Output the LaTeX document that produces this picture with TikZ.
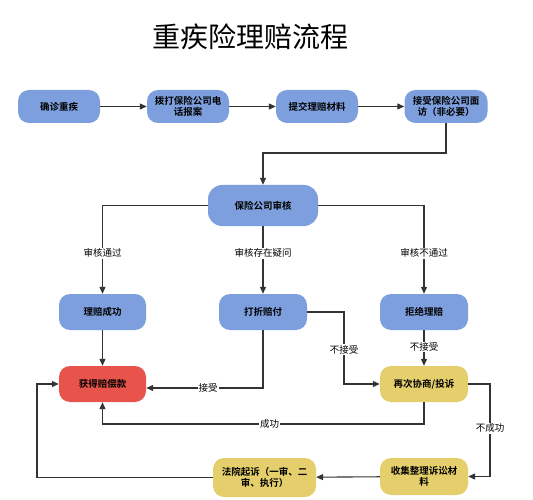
\documentclass[tikz,border=0pt]{standalone}
\usepackage{fontspec}
\setmainfont{Noto Sans CJK SC}[BoldFont={Noto Sans CJK SC Bold}]
\usetikzlibrary{arrows.meta}
\definecolor{nblue}{HTML}{7E9FDE}
\definecolor{nred}{HTML}{E8534C}
\definecolor{nyel}{HTML}{E5CF6C}
\definecolor{lcol}{HTML}{333333}
\tikzset{
  box/.style={rounded corners=11pt, align=center, font=\fontsize{9.5}{11}\selectfont\bfseries, inner sep=1pt, text=black},
  bluebox/.style={box, fill=nblue},
  redbox/.style={box, fill=nred},
  yelbox/.style={box, fill=nyel},
  arr/.style={draw=lcol, line width=1.1pt, -{Triangle[length=7pt,width=6pt]}},
  lbl/.style={fill=white, inner sep=1pt, font=\fontsize{9.5}{11}\selectfont, text=black}
}
\begin{document}
\begin{tikzpicture}[x=1pt,y=-1pt]
\useasboundingbox[fill=white] (0,0) rectangle (533,500);
\node[font=\fontsize{28}{30}\selectfont] (title) at (250,37) {重疾险理赔流程};
\node[bluebox, minimum width=82pt, minimum height=33pt] (n1) at (59,106.5) {确诊重疾};
\node[bluebox, minimum width=82pt, minimum height=33pt] (n2) at (188,106.5) {拨打保险公司电\\话报案};
\node[bluebox, minimum width=82pt, minimum height=33pt] (n3) at (317,106.5) {提交理赔材料};
\node[bluebox, minimum width=83pt, minimum height=33pt] (n4) at (446,106.5) {接受保险公司面\\访（非必要）};
\node[bluebox, minimum width=110pt, minimum height=41pt, rounded corners=14pt] (audit) at (263,205.5) {保险公司审核};
\node[bluebox, minimum width=87pt, minimum height=36pt] (ok) at (102.5,312) {理赔成功};
\node[bluebox, minimum width=88pt, minimum height=36pt] (disc) at (263,312) {打折赔付};
\node[bluebox, minimum width=88pt, minimum height=36pt] (rej) at (424,312) {拒绝理赔};
\node[redbox, minimum width=87pt, minimum height=36pt] (pay) at (102.5,384) {获得赔偿款};
\node[yelbox, minimum width=88pt, minimum height=36pt] (neg) at (424,384) {再次协商/投诉};
\node[yelbox, minimum width=88pt, minimum height=37pt] (col) at (424,476.5) {收集整理诉讼材\\料};
\node[yelbox, minimum width=103pt, minimum height=39pt] (court) at (264.5,477.5) {法院起诉（一审、二\\审、执行）};
\coordinate (c1) at (0,153);
\coordinate (c2) at (344,0);
\coordinate (c3) at (0,424);
\coordinate (c4) at (490,0);
\coordinate (c5) at (37,0);
\draw[arr] (n1) -- (n2);
\draw[arr] (n2) -- (n3);
\draw[arr] (n3) -- (n4);
\draw[arr] (n4.south) -- (n4.south |- c1) -| (audit.north);
\draw[arr] (audit.west) -| node[lbl, pos=0.77] {审核通过} (ok.north);
\draw[arr] (audit.south) -- node[lbl, pos=0.4] {审核存在疑问} (disc.north);
\draw[arr] (audit.east) -| node[lbl, pos=0.77] {审核不通过} (rej.north);
\draw[arr] (ok) -- (pay);
\draw[arr] (disc.south) |- node[lbl, pos=0.735] {接受} ([yshift=-4pt]pay.east);
\draw[arr] (disc.east) -- (disc.east -| c2) |- node[lbl, pos=0.26] {不接受} (neg.west);
\draw[arr] (rej) -- node[lbl, pos=0.47] {不接受} (neg);
\draw[arr] (neg.south) -- (neg.south |- c3) -| node[lbl, pos=0.24] {成功} (pay.south);
\draw[arr] (neg.east) -- (neg.east -| c4) |- node[lbl, pos=0.24] {不成功} (col.east);
\draw[arr] (col) -- (court);
\draw[arr] (court.west) -- (court.west -| c5) |- (pay.west);
\end{tikzpicture}
\end{document}
